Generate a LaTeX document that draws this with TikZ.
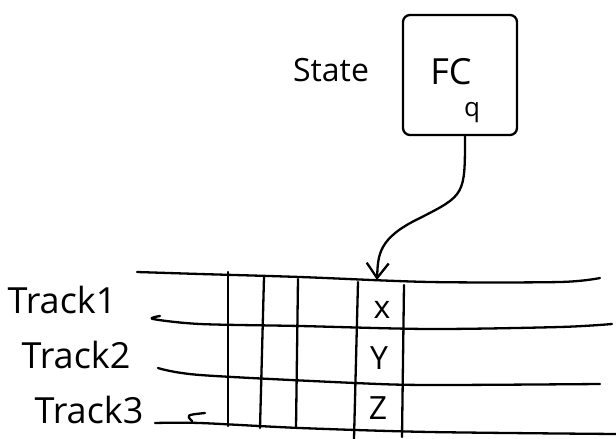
\documentclass[tikz,border=0pt]{standalone}
\usepackage{fontspec}
\setmainfont{Open Sans}
\usetikzlibrary{arrows.meta}
\tikzset{
  pen/.style={line width=2.3pt, line cap=round, line join=round},
  tracklabel/.style={font=\fontsize{36}{36}\selectfont, inner sep=0pt},
  cellsym/.style={font=\fontsize{32}{32}\selectfont, inner sep=0pt},
  fcbox/.style={pen, draw, rounded corners=7pt, minimum width=114pt, minimum height=120pt, inner sep=0pt},
}
\begin{document}
\begin{tikzpicture}[x=1pt,y=-1pt]
\useasboundingbox (0,0) rectangle (616,439);
% finite control
\node[fcbox] (fc) at (460,75) {};
\node[font=\fontsize{36}{36}\selectfont, inner sep=0pt] (fctext) at (451,72) {FC};
\node[font=\fontsize{26}{26}\selectfont, inner sep=0pt] (qtext) at (472,113) {q};
\node[font=\fontsize{32}{32}\selectfont, inner sep=0pt] (state) at (331,70) {State};
% tape horizontal lines
\draw[pen] plot[smooth] coordinates {(137,272) (200,274) (300,277) (430,282) (560,282) (600,278)};
\draw[pen] plot[smooth] coordinates {(160,316) (153,319) (200,324) (300,326) (430,329) (560,327) (612,324)};
\draw[pen] plot[smooth] coordinates {(158,368) (200,375) (355,383) (430,385) (600,384)};
\draw[pen] plot[smooth] coordinates {(155,423) (200,423) (300,428) (430,432) (616,434)};
\draw[pen] (205,413) .. controls (186,415) .. (192,421);
% tape vertical lines
\draw[pen] (228,272) -- (228,426);
\draw[pen] (264,277) -- (260,428);
\draw[pen] (298,279) -- (296,428);
\draw[pen] (358,282) -- (354,439);
\draw[pen] (404,285) -- (402,437);
% track labels
\node[tracklabel] (t1) at (62,300) {Track1};
\node[tracklabel] (t2) at (76,355) {Track2};
\node[tracklabel] (t3) at (89,410) {Track3};
% cell contents
\node[cellsym] (cx) at (382,310) {x};
\node[cellsym] (cy) at (379,358) {Y};
\node[cellsym] (cz) at (378,408) {Z};
% head arrow
\coordinate (head) at (377,280);
\draw[pen, -{Straight Barb[length=15pt,width=22pt,line width=2.3pt]}]
  ([xshift=5pt]fc.south) .. controls (465,195) .. (420,218)
  .. controls (378,238) and (378,255) .. (head);
\end{tikzpicture}
\end{document}
